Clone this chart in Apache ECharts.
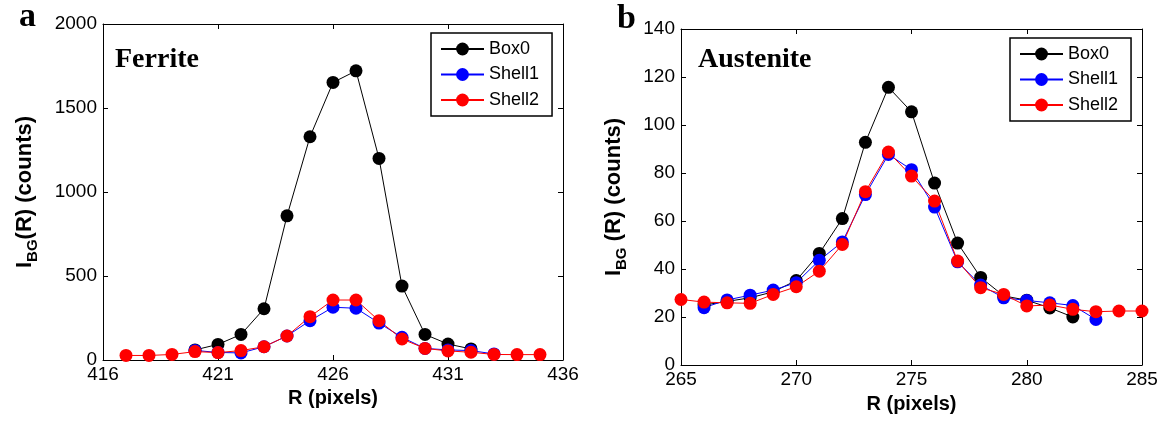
<!DOCTYPE html>
<html>
<head>
<meta charset="utf-8">
<script src="https://cdn.jsdelivr.net/npm/echarts@6/dist/echarts.min.js"></script>
<style>
html,body{margin:0;padding:0;background:#fff;}
#c{width:1160px;height:421px;}
</style>
</head>
<body>
<div id="c"></div>
<script>
// ---------- DATA ----------
const seriesNames = ['Box0', 'Shell1', 'Shell2'];

// Panel a: Ferrite
const ferriteBox0R = [420, 421, 422, 423, 424, 425, 426, 427, 428, 429, 430, 431, 432];
const ferriteBox0 = [60, 93, 152, 305, 858, 1329, 1652, 1721, 1200, 440, 152, 95, 66];
const ferriteShell1R = [420, 421, 422, 423, 424, 425, 426, 427, 428, 429, 430, 431, 432, 433];
const ferriteShell1 = [57, 45, 42, 79, 143, 234, 314, 308, 220, 135, 69, 60, 56, 36];
const ferriteShell2R = [417, 418, 419, 420, 421, 422, 423, 424, 425, 426, 427, 428, 429, 430, 431, 432, 433, 434, 435];
const ferriteShell2 = [27, 27, 33, 50, 44, 56, 79, 143, 258, 357, 357, 234, 125, 69, 54, 46, 33, 32, 32];

// Panel b: Austenite
const austBox0R = [266, 267, 268, 269, 270, 271, 272, 273, 274, 275, 276, 277, 278, 279, 280, 281, 282];
const austBox0 = [25, 26.5, 28, 30.5, 35.2, 46.5, 61, 92.8, 115.7, 105.5, 75.8, 50.8, 36.5, 28.8, 27, 23.8, 20];
const austShell1R = [266, 267, 268, 269, 270, 271, 272, 273, 274, 275, 276, 277, 278, 279, 280, 281, 282, 283];
const austShell1 = [23.9, 27.1, 29.1, 31.2, 34.3, 43.6, 51.3, 71.0, 87.7, 81.4, 65.8, 43.0, 33.3, 28.0, 26.9, 25.9, 24.8, 19.0];
const austShell2R = [265, 266, 267, 268, 269, 270, 271, 272, 273, 274, 275, 276, 277, 278, 279, 280, 281, 282, 283, 284, 285];
const austShell2 = [27.3, 26.2, 25.9, 25.7, 29.4, 32.6, 39.1, 50.2, 72.2, 88.7, 78.7, 68.3, 43.3, 32.2, 29.4, 24.6, 25.0, 23.2, 22.2, 22.5, 22.5];

// axis ranges / tick settings
const ferriteX = {min: 416, max: 436, interval: 5};
const ferriteY = {min: 0, max: 2000, interval: 500};
const austX = {min: 265, max: 285, interval: 5};
const austY = {min: 0, max: 140, interval: 20};

// ---------- STYLE ----------
const colors = ['#000000', '#0000ff', '#ff0000'];
const SANS = '"Liberation Sans", Arial, sans-serif';
const SERIF = '"Liberation Serif", "Times New Roman", serif';

function pairs(xs, ys) { return xs.map((x, i) => [x, ys[i]]); }
const plain = v => String(v);

const grids = [
  {left: 103, top: 24, width: 460, height: 336},
  {left: 681, top: 29, width: 461, height: 336}
];

function mainX(gi, r, gap) {
  return {
    type: 'value', gridIndex: gi, position: 'bottom', min: r.min, max: r.max, interval: r.interval,
    name: 'R (pixels)', nameLocation: 'middle', nameGap: gap,
    nameTextStyle: {fontFamily: SANS, fontWeight: 'bold', fontSize: 20, color: '#000'},
    axisLine: {show: true, onZero: false, lineStyle: {color: '#000', width: 1}},
    axisTick: {show: true, inside: true, length: 5, lineStyle: {color: '#000', width: 1}},
    axisLabel: {show: true, margin: 5, fontFamily: SANS, fontSize: 19, color: '#000', formatter: plain, showMinLabel: true, showMaxLabel: true},
    splitLine: {show: false}
  };
}
function topX(gi, r) {
  return {
    type: 'value', gridIndex: gi, position: 'top', min: r.min, max: r.max, interval: r.interval,
    axisLine: {show: true, onZero: false, lineStyle: {color: '#000', width: 1}},
    axisTick: {show: true, inside: true, length: 5, lineStyle: {color: '#000', width: 1}},
    axisLabel: {show: false}, splitLine: {show: false}
  };
}
function mainY(gi, r, nameText, gap) {
  return {
    type: 'value', gridIndex: gi, position: 'left', min: r.min, max: r.max, interval: r.interval,
    name: nameText, nameLocation: 'middle', nameGap: gap, nameRotate: 90, nameMoveOverlap: false,
    nameTextStyle: {
      fontFamily: SANS, fontWeight: 'bold', fontSize: 22, color: '#000',
      rich: {
        m: {fontFamily: SANS, fontWeight: 'bold', fontSize: 22, color: '#000', verticalAlign: 'bottom', padding: [0, 0, 4, 0]},
        s: {fontFamily: SANS, fontWeight: 'bold', fontSize: 15, color: '#000', verticalAlign: 'bottom'}
      }
    },
    axisLine: {show: true, onZero: false, lineStyle: {color: '#000', width: 1}},
    axisTick: {show: true, inside: true, length: 5, lineStyle: {color: '#000', width: 1}},
    axisLabel: {show: true, margin: 6, fontFamily: SANS, fontSize: 19, color: '#000', formatter: plain, showMinLabel: true, showMaxLabel: true},
    splitLine: {show: false}
  };
}
function rightY(gi, r) {
  return {
    type: 'value', gridIndex: gi, position: 'right', min: r.min, max: r.max, interval: r.interval,
    axisLine: {show: true, onZero: false, lineStyle: {color: '#000', width: 1}},
    axisTick: {show: true, inside: true, length: 5, lineStyle: {color: '#000', width: 1}},
    axisLabel: {show: false}, splitLine: {show: false}
  };
}

function lineSeries(name, idx, xAxisIndex, yAxisIndex, data) {
  return {
    type: 'line', name: name, xAxisIndex: xAxisIndex, yAxisIndex: yAxisIndex,
    data: data, symbol: 'circle', symbolSize: 13, showSymbol: true,
    color: colors[idx],
    lineStyle: {color: colors[idx], width: 1},
    itemStyle: {color: colors[idx]},
    emphasis: {disabled: true}, animation: false
  };
}

// series: panel a uses xAxis 0 / yAxis 0, panel b uses xAxis 2 / yAxis 2
const series = [
  lineSeries(seriesNames[0], 0, 0, 0, pairs(ferriteBox0R, ferriteBox0)),
  lineSeries(seriesNames[1], 1, 0, 0, pairs(ferriteShell1R, ferriteShell1)),
  lineSeries(seriesNames[2], 2, 0, 0, pairs(ferriteShell2R, ferriteShell2)),
  lineSeries(seriesNames[0], 0, 2, 2, pairs(austBox0R, austBox0)),
  lineSeries(seriesNames[1], 1, 2, 2, pairs(austShell1R, austShell1)),
  lineSeries(seriesNames[2], 2, 2, 2, pairs(austShell2R, austShell2))
];

function legendAt(left, top, seriesIdx) {
  return {
    orient: 'vertical', left: left, top: top,
    data: seriesNames,
    seriesIndex: seriesIdx,
    itemWidth: 43, itemHeight: 16, itemGap: 7.5,
    padding: [7, 13, 7, 9],
    backgroundColor: '#fff', borderColor: '#000', borderWidth: 1.5, borderRadius: 0,
    selectedMode: false,
    textStyle: {fontFamily: SANS, fontSize: 18, color: '#000', padding: [0, 0, 0, 0]}
  };
}

const option = {
  backgroundColor: '#fff',
  animation: false,
  grid: grids.map(g => Object.assign({outerBoundsMode: 'none', containLabel: false}, g)),
  xAxis: [mainX(0, ferriteX, 28), topX(0, ferriteX), mainX(1, austX, 29), topX(1, austX)],
  yAxis: [
    mainY(0, ferriteY, '{m|I}{s|BG}{m|(R) (counts)}', 63),
    rightY(0, ferriteY),
    mainY(1, austY, '{m|I}{s|BG}{m| (R) (counts)}', 52),
    rightY(1, austY)
  ],
  legend: [legendAt(431, 33, [0, 1, 2]), legendAt(1010, 38, [3, 4, 5])],
  series: series,
  graphic: [
    {type: 'text', left: 19, top: 0, style: {text: 'a', font: 'bold 34px ' + SERIF, fill: '#000'}},
    {type: 'text', left: 617, top: 2, style: {text: 'b', font: 'bold 34px ' + SERIF, fill: '#000'}},
    {type: 'text', left: 115, top: 46, style: {text: 'Ferrite', font: 'bold 28px ' + SERIF, fill: '#000'}},
    {type: 'text', left: 698, top: 46, style: {text: 'Austenite', font: 'bold 28px ' + SERIF, fill: '#000'}}
  ]
};

const chart = echarts.init(document.getElementById('c'), null, {renderer: 'canvas'});
chart.setOption(option);
</script>
</body>
</html>
